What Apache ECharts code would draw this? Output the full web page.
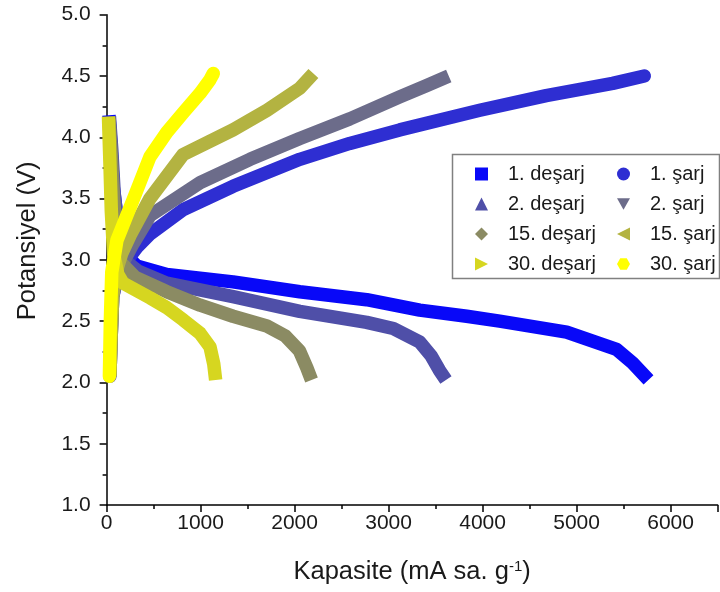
<!DOCTYPE html>
<html>
<head>
<meta charset="utf-8">
<script src="https://cdn.jsdelivr.net/npm/echarts@6/dist/echarts.min.js"></script>
<style>
  html, body { margin: 0; padding: 0; background: #fff; }
  #chart { width: 720px; height: 592px; }
</style>
</head>
<body>
<div id="chart"></div>
<script>
// Galvanostatic curves: [capacity (mA sa. g^-1), potential (V)]
const desarj1 = [[25,4.18],[45,3.95],[70,3.6],[110,3.35],[160,3.15],[230,3.02],[320,2.95],[640,2.88],[1345,2.82],[2055,2.74],[2767,2.675],[3331,2.59],[3831,2.54],[4181,2.50],[4894,2.41],[5425,2.27],[5595,2.16],[5765,2.02]];
const sarj1   = [[35,2.05],[50,2.4],[65,2.7],[120,2.88],[220,3.0],[320,3.1],[461,3.21],[815,3.41],[1345,3.60],[2055,3.82],[2587,3.95],[3118,4.06],[3970,4.22],[4676,4.34],[5384,4.44],[5720,4.50]];
const desarj2 = [[30,4.17],[55,3.9],[80,3.55],[115,3.3],[150,3.1],[200,2.99],[330,2.91],[640,2.81],[1345,2.70],[2055,2.58],[2767,2.49],[3050,2.44],[3331,2.33],[3450,2.22],[3540,2.10],[3610,2.02]];
const sarj2   = [[35,2.05],[50,2.4],[65,2.7],[110,2.88],[190,3.0],[280,3.13],[461,3.36],[995,3.63],[1526,3.82],[2055,3.99],[2587,4.15],[3118,4.33],[3400,4.42],[3640,4.50]];
const desarj15 = [[25,4.15],[50,3.85],[75,3.5],[105,3.2],[150,2.98],[300,2.86],[640,2.74],[995,2.63],[1345,2.54],[1705,2.46],[1900,2.38],[2050,2.26],[2130,2.12],[2180,2.02]];
const sarj15   = [[35,2.05],[50,2.4],[65,2.7],[100,2.9],[160,3.05],[250,3.2],[461,3.50],[815,3.86],[1345,4.06],[1705,4.22],[2055,4.40],[2200,4.52]];
const desarj30 = [[20,4.17],[35,3.8],[50,3.4],[75,3.05],[120,2.88],[175,2.81],[463,2.69],[640,2.61],[815,2.51],[995,2.40],[1100,2.29],[1140,2.15],[1160,2.02]];
const sarj30   = [[30,2.05],[40,2.5],[55,2.9],[110,3.16],[282,3.49],[461,3.84],[640,4.04],[815,4.20],[995,4.36],[1100,4.47],[1135,4.52]];

const seriesNames = ['1. deşarj', '1. şarj', '2. deşarj', '2. şarj', '15. deşarj', '15. şarj', '30. deşarj', '30. şarj'];
const seriesData  = [desarj1, sarj1, desarj2, sarj2, desarj15, sarj15, desarj30, sarj30];

const colors = ['#0808f8', '#2e2ed2', '#4f4fa8', '#6c6c8a', '#8b8b63', '#b3b341', '#d6d620', '#ffff00'];
const icons = [
  'rect',
  'circle',
  'triangle',
  'path://M0,0 L10,0 L5,9 Z',
  'diamond',
  'path://M10,0 L10,10 L0,5 Z',
  'path://M0,0 L0,10 L10,5 Z',
  'path://M2.5,0 L7.5,0 L10,4.33 L7.5,8.66 L2.5,8.66 L0,4.33 Z'
];
const caps = ['butt', 'round', 'butt', 'butt', 'butt', 'butt', 'butt', 'round'];

const FONT = '"Liberation Sans", Arial, sans-serif';
const INK = '#1a1a1a';

const chart = echarts.init(document.getElementById('chart'), null, { renderer: 'canvas' });

const legendText = { fontSize: 20, fontFamily: FONT, color: INK, padding: [0, 0, 0, 15] };
const legendItems = seriesNames.map((n, i) => ({ name: n, icon: icons[i], itemStyle: { color: colors[i] } }));

const tickLine = { color: '#000', width: 1.5 };

chart.setOption({
  animation: false,
  backgroundColor: '#fff',
  grid: { left: 106.6, top: 14.7, right: 2.4, bottom: 87, containLabel: false },
  xAxis: {
    type: 'value', min: 0, max: 6500, interval: 1000,
    name: 'Kapasite (mA sa. g{sup|-1})',
    nameLocation: 'middle', nameGap: 54,
    nameTextStyle: {
      fontSize: 25.5, fontFamily: FONT, color: INK,
      rich: { sup: { fontSize: 15, fontFamily: FONT, color: INK, verticalAlign: 'top', lineHeight: 15 } }
    },
    axisLine: { show: true, onZero: false, lineStyle: tickLine },
    axisTick: { show: true, inside: false, length: 7, lineStyle: tickLine },
    minorTick: { show: true, splitNumber: 2, length: 4, lineStyle: tickLine },
    splitLine: { show: false },
    axisLabel: { fontSize: 21, fontFamily: FONT, color: INK, margin: 8, showMaxLabel: false, formatter: v => String(v) }
  },
  yAxis: {
    type: 'value', min: 1, max: 5, interval: 0.5,
    name: 'Potansiyel (V)',
    nameLocation: 'middle', nameGap: 66,
    nameTextStyle: { fontSize: 25.5, fontFamily: FONT, color: INK, padding: [0, 0, 0, 38] },
    axisLine: { show: true, onZero: false, lineStyle: tickLine },
    axisTick: { show: true, inside: false, length: 7, lineStyle: tickLine },
    minorTick: { show: true, splitNumber: 2, length: 4, lineStyle: tickLine },
    splitLine: { show: false },
    axisLabel: { fontSize: 21, fontFamily: FONT, color: INK, margin: 16, formatter: v => v.toFixed(1) }
  },
  legend: [
    {
      orient: 'vertical', left: 470, top: 159, itemWidth: 13, itemHeight: 13, itemGap: 10,
      selectedMode: false, textStyle: legendText,
      data: legendItems.filter((_, i) => i % 2 === 0)
    },
    {
      orient: 'vertical', left: 612, top: 159, itemWidth: 13, itemHeight: 13, itemGap: 10,
      selectedMode: false, textStyle: legendText,
      data: legendItems.filter((_, i) => i % 2 === 1)
    }
  ],
  graphic: [{
    type: 'rect', left: 450, top: 152, z: 100,
    shape: { width: 267, height: 124 },
    style: { fill: 'none', stroke: '#808080', lineWidth: 1.5 }
  }],
  series: seriesNames.map((n, i) => ({
    name: n,
    type: 'line',
    data: seriesData[i],
    showSymbol: false,
    symbol: 'none',
    clip: true,
    color: colors[i],
    lineStyle: { color: colors[i], width: 13.5, cap: caps[i], join: 'round' },
    emphasis: { disabled: true },
    z: 2 + i
  }))
});
</script>
</body>
</html>
